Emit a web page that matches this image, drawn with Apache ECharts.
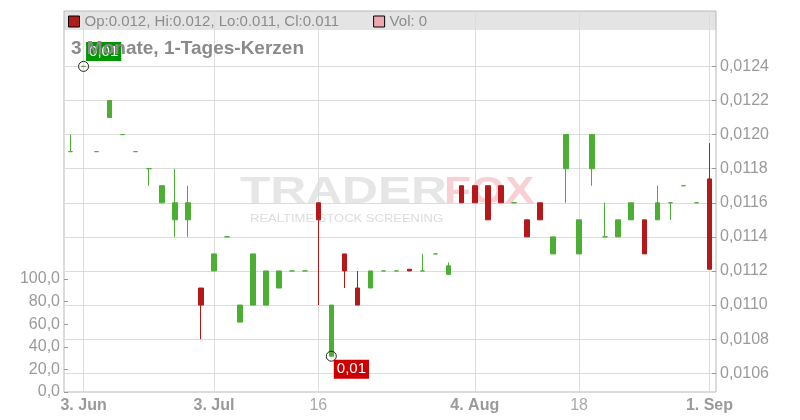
<!DOCTYPE html>
<html lang="de">
<head>
    <meta charset="UTF-8">
    <title>3 Monate, 1-Tages-Kerzen</title>
    <script src="https://cdn.jsdelivr.net/npm/echarts@6/dist/echarts.min.js"></script>
    <style>
        html, body { margin: 0; padding: 0; background: #fff; }
        #chart { width: 800px; height: 420px; }
    </style>
</head>
<body>
<div id="chart"></div>
<script type="text/javascript">
    // handelstage (nur tage mit kursen)
    var dates = [
        '2025-05-30', '2025-06-03', '2025-06-06', '2025-06-09', '2025-06-12',
        '2025-06-16', '2025-06-18', '2025-06-20', '2025-06-24', '2025-06-26',
        '2025-06-30', '2025-07-03', '2025-07-04', '2025-07-07', '2025-07-08',
        '2025-07-09', '2025-07-10', '2025-07-11', '2025-07-14', '2025-07-16',
        '2025-07-17', '2025-07-18', '2025-07-21', '2025-07-22', '2025-07-23',
        '2025-07-24', '2025-07-25', '2025-07-28', '2025-07-29', '2025-07-30',
        '2025-07-31', '2025-08-04', '2025-08-05', '2025-08-06', '2025-08-07',
        '2025-08-08', '2025-08-11', '2025-08-12', '2025-08-13', '2025-08-18',
        '2025-08-19', '2025-08-20', '2025-08-21', '2025-08-22', '2025-08-25',
        '2025-08-26', '2025-08-27', '2025-08-28', '2025-08-29', '2025-09-01'
    ];
    var tickDates = ['2025-06-03', '2025-07-03', '2025-07-16', '2025-08-04', '2025-08-18', '2025-09-01'];
    var tickLabels = ['3. Jun', '3. Jul', '16', '4. Aug', '18', '1. Sep'];

    var openPrices = [
        0.0119, 0.0124, 0.0119, 0.0121, 0.0120, 0.0119, 0.0118, 0.0116, 0.0115, 0.0115,
        0.0111, 0.0112, 0.0114, 0.0109, 0.0110, 0.0110, 0.0111, 0.0112, 0.0112, 0.0116,
        0.0107, 0.0113, 0.0111, 0.0111, 0.0112, 0.0112, 0.01121, 0.0112, 0.0113, 0.01118,
        0.0117, 0.0117, 0.0117, 0.0117, 0.0116, 0.0115, 0.0116, 0.0113, 0.0118, 0.0113,
        0.0118, 0.0114, 0.0114, 0.0115, 0.0115, 0.0115, 0.0116, 0.0117, 0.0116, 0.01174
    ];
    var closePrices = [
        0.0119, 0.0124, 0.0119, 0.0122, 0.0120, 0.0119, 0.0118, 0.0117, 0.0116, 0.0116,
        0.0110, 0.0113, 0.0114, 0.0110, 0.0113, 0.0112, 0.0112, 0.0112, 0.0112, 0.0115,
        0.0110, 0.0112, 0.0110, 0.0112, 0.0112, 0.0112, 0.0112, 0.0112, 0.0113, 0.01123,
        0.0116, 0.0116, 0.0115, 0.0116, 0.0116, 0.0114, 0.0115, 0.0114, 0.0120, 0.0115,
        0.0120, 0.0114, 0.0115, 0.0116, 0.0113, 0.0116, 0.0116, 0.0117, 0.0116, 0.01121
    ];
    var lowPrices = [
        0.0119, 0.0124, 0.0119, 0.0121, 0.0120, 0.0119, 0.0117, 0.0116, 0.0114, 0.0114,
        0.0108, 0.0112, 0.0114, 0.0109, 0.0110, 0.0110, 0.0111, 0.0112, 0.0112, 0.0110,
        0.0107, 0.0111, 0.0110, 0.0111, 0.0112, 0.0112, 0.0112, 0.0112, 0.0113, 0.01118,
        0.0116, 0.0116, 0.0115, 0.0116, 0.0116, 0.0114, 0.0115, 0.0113, 0.0116, 0.0113,
        0.0117, 0.0114, 0.0114, 0.0115, 0.0113, 0.0115, 0.0115, 0.0117, 0.0116, 0.01121
    ];
    var highPrices = [
        0.0120, 0.0124, 0.0119, 0.0122, 0.0120, 0.0119, 0.0118, 0.0117, 0.0118, 0.0117,
        0.0111, 0.0113, 0.0114, 0.0110, 0.0113, 0.0112, 0.0112, 0.0112, 0.0112, 0.0116,
        0.0110, 0.0113, 0.0112, 0.0112, 0.0112, 0.0112, 0.01121, 0.0113, 0.0113, 0.01125,
        0.0117, 0.0117, 0.0117, 0.0117, 0.0116, 0.0115, 0.0116, 0.0114, 0.0120, 0.0115,
        0.0120, 0.0116, 0.0115, 0.0116, 0.0115, 0.0117, 0.0116, 0.0117, 0.0116, 0.01195
    ];
    var volumes = [
        0, 0, 0, 0, 0, 0, 0, 0, 0, 0,
        0, 0, 0, 0, 0, 0, 0, 0, 0, 0,
        0, 0, 0, 0, 0, 0, 0, 0, 0, 0,
        0, 0, 0, 0, 0, 0, 0, 0, 0, 0,
        0, 0, 0, 0, 0, 0, 0, 0, 0, 0
    ];

    var GREEN = '#4cae33';
    var RED = '#b51818';
    var GRID_LINE = '#dcdcdc';
    var AXIS_TEXT = '#9a9a9a';

    function deNum(v, digits) {
        return v.toFixed(digits).replace('.', ',');
    }

    var last = dates.length - 1;
    var candleName = 'Op:' + openPrices[last].toFixed(3) + ', Hi:' + highPrices[last].toFixed(3) +
        ', Lo:' + lowPrices[last].toFixed(3) + ', Cl:' + closePrices[last].toFixed(3);
    var volName = 'Vol: ' + volumes[last];

    var candles = [];
    for (var i = 0; i < dates.length; i++) {
        candles.push([openPrices[i], closePrices[i], lowPrices[i], highPrices[i]]);
    }

    var chart = echarts.init(document.getElementById('chart'));
    var option = {
        animation: false,
        textStyle: { fontFamily: 'Liberation Sans, Arial, sans-serif' },
        title: {
            text: '3 Monate, 1-Tages-Kerzen',
            left: 71,
            top: 39,
            padding: 0,
            z: 10,
            textStyle: { fontSize: 19, fontWeight: 'bold', color: '#8a8a8a' }
        },
        legend: {
            left: 68,
            top: 14,
            padding: 0,
            itemGap: 34,
            itemWidth: 11,
            itemHeight: 11,
            selectedMode: false,
            icon: 'rect',
            textStyle: { fontSize: 15, color: '#8c8c8c' },
            data: [
                { name: candleName, itemStyle: { color: '#b31b1b', borderColor: '#000', borderWidth: 1 } },
                { name: volName, itemStyle: { color: '#eea7af', borderColor: '#000', borderWidth: 1 } }
            ]
        },
        graphic: [
            { type: 'text', x: 240, y: 175, scaleX: 1.38, z: 1, silent: true,
              style: { text: 'TRADER', fill: '#e6e6e6', font: 'bold 36px Liberation Sans' } },
            { type: 'text', x: 444, y: 175, scaleX: 1.22, z: 1, silent: true,
              style: { text: 'FOX', fill: '#f8d0d4', font: 'bold 36px Liberation Sans' } },
            { type: 'text', x: 250, y: 214, scaleX: 1.3, z: 1, silent: true,
              style: { text: 'REALTIME STOCK SCREENING', fill: '#dcdcdc', font: '10px Liberation Sans' } }
        ],
        grid: [
            // rahmen
            { left: 64, right: 84, top: 11, bottom: 28, show: true, borderColor: '#b8b8b8', borderWidth: 1, backgroundColor: 'transparent' },
            // kurse
            { left: 64, right: 84, top: 34, bottom: 28 },
            // volumen
            { left: 64, right: 84, top: 279, bottom: 28 },
            // kopfzeile
            { left: 64, right: 84, top: 11, height: 19, show: true, backgroundColor: '#e4e4e4', borderWidth: 0, z: -1 }
        ],
        xAxis: [
            {
                type: 'category', gridIndex: 0, data: dates, boundaryGap: true,
                axisLine: { show: false }, axisTick: { show: false }, splitLine: { show: false },
                axisLabel: {
                    margin: 6,
                    interval: function (index, value) { return tickDates.indexOf(value) >= 0; },
                    formatter: function (value) {
                        var label = tickLabels[tickDates.indexOf(value)];
                        return label.indexOf('.') >= 0 ? '{b|' + label + '}' : '{n|' + label + '}';
                    },
                    rich: {
                        b: { fontSize: 16, fontWeight: 'bold', color: AXIS_TEXT },
                        n: { fontSize: 16, color: '#a8a8a8' }
                    }
                }
            },
            { type: 'category', gridIndex: 1, data: dates, boundaryGap: true, show: false },
            { type: 'category', gridIndex: 2, data: dates, boundaryGap: true, show: false }
        ],
        yAxis: [
            { type: 'value', gridIndex: 0, min: 0, max: 1, show: false },
            {
                type: 'value', gridIndex: 1, position: 'right',
                min: 0.01049, max: 0.01259, splitNumber: 10,
                axisLine: { show: false },
                axisTick: { show: true, inside: true, length: 4, lineStyle: { color: '#999' } },
                splitLine: { show: true, showMinLine: false, showMaxLine: false, lineStyle: { color: GRID_LINE } },
                axisLabel: {
                    margin: 4, fontSize: 16, color: AXIS_TEXT,
                    showMinLabel: false, showMaxLabel: false,
                    formatter: function (v) { return deNum(v, 4); }
                }
            },
            {
                type: 'value', gridIndex: 2, position: 'left',
                min: 0, max: 100, interval: 20,
                axisLine: { show: false },
                axisTick: { show: true, inside: true, length: 4, lineStyle: { color: '#999' } },
                splitLine: { show: false },
                axisLabel: {
                    margin: 4, fontSize: 16, color: AXIS_TEXT,
                    formatter: function (v) { return deNum(v, 1); }
                }
            }
        ],
        series: [
            {
                name: 'raster',
                type: 'line',
                xAxisIndex: 0,
                yAxisIndex: 0,
                z: 1,
                data: [],
                silent: true,
                markLine: {
                    z: 1,
                    symbol: 'none',
                    silent: true,
                    animation: false,
                    label: { show: false },
                    emphasis: { disabled: true },
                    lineStyle: { color: GRID_LINE, width: 1, type: 'solid' },
                    data: tickDates.map(function (d) { return { xAxis: d }; })
                }
            },
            {
                name: volName,
                type: 'bar',
                xAxisIndex: 2,
                yAxisIndex: 2,
                data: volumes,
                itemStyle: { color: '#eea7af' }
            },
            {
                name: candleName,
                type: 'candlestick',
                xAxisIndex: 1,
                yAxisIndex: 1,
                z: 3,
                barWidth: 5,
                data: candles,
                itemStyle: {
                    color: GREEN,
                    color0: RED,
                    borderColor: GREEN,
                    borderColor0: RED,
                    borderColorDoji: GREEN,
                    borderWidth: 1
                },
                markPoint: {
                    symbol: 'circle',
                    symbolSize: 10,
                    silent: true,
                    itemStyle: { color: 'rgba(0,0,0,0)', borderColor: '#222', borderWidth: 1 },
                    label: {
                        show: true,
                        color: '#fff',
                        fontSize: 15,
                        padding: [2, 3, 2, 3],
                        formatter: function (p) { return deNum(p.value, 2); }
                    },
                    data: [
                        { type: 'max', valueDim: 'highest', label: { position: [8, -19], backgroundColor: '#009600' } },
                        { type: 'min', valueDim: 'lowest', label: { position: [8, 9], backgroundColor: '#cc0000' } }
                    ]
                }
            }
        ]
    };
    chart.setOption(option);
</script>
</body>
</html>
